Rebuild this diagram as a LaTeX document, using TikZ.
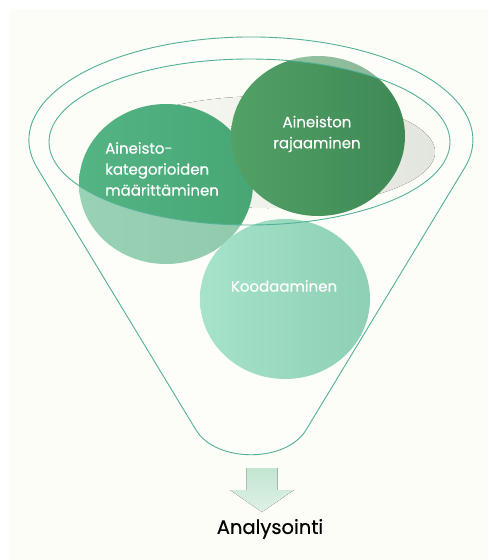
\documentclass[tikz,border=0pt]{standalone}
\usepackage{fontspec}
\setmainfont{Poppins}
\newfontfamily\labelfont{Poppins}[FakeBold=0.45]
\usetikzlibrary{shapes.geometric}

\definecolor{paper}{HTML}{FDFDF7}
\definecolor{rimline}{HTML}{52B097}
\definecolor{liquid}{HTML}{E2E5DE}
\definecolor{catA}{HTML}{55B484}
\definecolor{catB}{HTML}{47A674}
\definecolor{rajA}{HTML}{52A167}
\definecolor{rajB}{HTML}{3E8854}
\definecolor{kooA}{HTML}{A6E3CA}
\definecolor{kooB}{HTML}{8DD0B4}
\definecolor{arrowA}{HTML}{C2E6D1}
\definecolor{arrowB}{HTML}{DFF1E6}

\tikzset{
  disc/.style={ellipse, draw=none, minimum width=174pt, minimum height=160pt, inner sep=0pt},
  disclabel/.style={text=white, font=\labelfont\fontsize{15}{21}\selectfont, inner sep=0pt},
  outline/.style={draw=rimline, line width=0.9pt},
}

\begin{document}
\begin{tikzpicture}[x=1pt, y=-1pt]
  \useasboundingbox (0,0) rectangle (488,560);
  \fill[white] (0,0) rectangle (488,560);
  \fill[paper] (9,9) rectangle (488,560);

  % surface of the contents inside the rim
  \fill[left color=paper, right color=liquid] (268,152) ellipse [x radius=167, y radius=56];

  % the two discs inside the funnel
  \node[disc, left color=catA, right color=catB] (cat) at (166,184) {};
  \node[disc, left color=rajA, right color=rajB] (raj) at (318,136) {};

  % glass of the funnel body, below the rim
  \path[fill=white, fill opacity=0.4, even odd rule]
    (37,167.5) arc[start angle=164.5, end angle=375.5, x radius=222, y radius=103]
    -- (306,430) .. controls (286,463) and (216,463) .. (196,430) -- cycle
    (249.5,142) ellipse [x radius=200.5, y radius=83];

  % disc in front of the funnel
  \node[disc, left color=kooA, right color=kooB, minimum width=170pt] (koo) at (285,299) {};

  % funnel outline and rim
  \draw[outline, line join=round]
    (37,167.5) arc[start angle=164.5, end angle=375.5, x radius=222, y radius=103]
    -- (306,430) .. controls (286,463) and (216,463) .. (196,430) -- cycle;
  \draw[outline] (249.5,142) ellipse [x radius=200.5, y radius=83];

  % labels
  \node[disclabel, align=left, anchor=north west] (catlabel) at (105,142) {Aineisto-\\kategorioiden\\määrittäminen};
  \node[disclabel, align=center] (rajlabel) at (317,134) {Aineiston\\rajaaminen};
  \node[disclabel] (koolabel) at (284,286) {Koodaaminen};

  % outlet arrow
  \fill[top color=arrowA, bottom color=arrowB]
    (246.5,468) -- (277.5,468) -- (277.5,490) -- (294,490) -- (262,512)
    -- (230,490) -- (246.5,490) -- cycle;

  \node[text=black, font=\labelfont\fontsize{19.5}{22}\selectfont, inner sep=0pt] (result) at (270,529) {Analysointi};
\end{tikzpicture}
\end{document}
